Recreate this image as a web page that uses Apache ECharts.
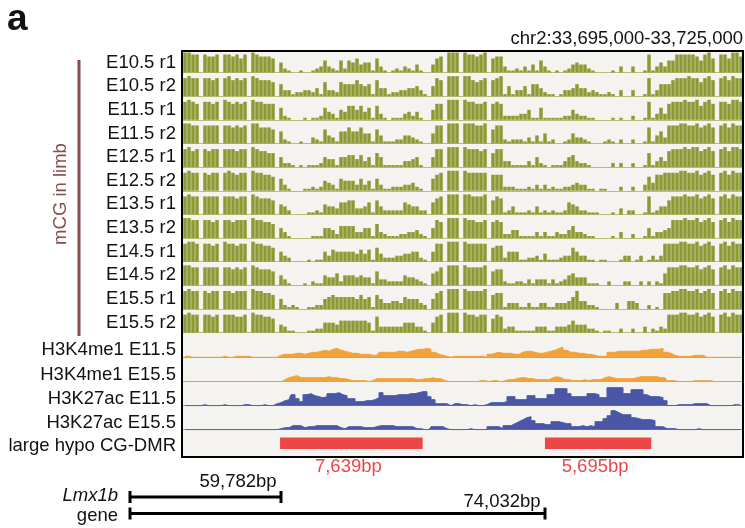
<!DOCTYPE html>
<html><head><meta charset="utf-8">
<script src="https://cdn.jsdelivr.net/npm/echarts@6/dist/echarts.min.js"></script>
<style>html,body{margin:0;padding:0;background:#fff}#c{width:745px;height:528px}</style>
</head><body><div id="c"></div>
<script>
// ---------- DATA ----------
const panelLetter = 'a';
const regionLabel = 'chr2:33,695,000-33,725,000';
const regionStart = 33695000;
const regionEnd = 33725000;
const groupLabel = 'mCG in limb';
const mcgLabels = ['E10.5 r1','E10.5 r2','E11.5 r1','E11.5 r2','E12.5 r1','E12.5 r2','E13.5 r1','E13.5 r2','E14.5 r1','E14.5 r2','E15.5 r1','E15.5 r2'];
// mCG level per 4-px bin (0-10), 140 bins across the region
const mE105r1 = [10,10,9,9,0,9,8,8,9,0, 9,9,8,9,7,9,0,10,9,8, 8,8,7,0,5,2,1,0,0,1, 0,0,1,2,3,6,3,2,1,6, 2,6,5,7,4,5,5,1,7,3, 1,0,1,2,1,3,2,1,4,1, 0,0,4,7,8,0,10,10,10,0, 10,9,9,8,9,10,0,7,8,8, 3,1,1,2,1,3,1,4,1,6, 3,1,0,1,0,1,2,4,5,4, 4,2,1,0,0,0,0,1,0,3, 0,0,3,0,0,1,9,1,3,5, 3,6,6,9,9,9,9,9,8,6, 9,10,7,0,9,9,7,10,10,8];
const mE105r2 = [9,10,9,9,0,9,9,8,9,0, 9,10,8,9,8,9,0,10,9,8, 8,8,7,0,6,3,3,1,2,2, 3,3,2,4,1,7,3,3,2,7, 6,6,6,8,6,5,6,1,8,4, 4,1,2,2,3,3,4,4,5,3, 1,0,5,9,8,0,10,10,10,0, 10,10,8,7,8,9,0,8,9,10, 1,5,1,3,3,5,1,6,6,4, 2,1,1,0,1,3,3,4,6,4, 4,2,3,2,1,1,2,1,0,3, 0,0,3,0,0,1,9,1,3,6, 6,6,8,9,9,9,10,9,9,7, 9,10,8,0,9,10,8,10,9,9];
const mE115r1 = [9,10,9,8,0,9,9,8,9,0, 10,9,8,9,8,9,0,10,9,9, 8,8,8,0,6,2,1,0,0,0, 1,0,1,1,2,6,4,3,1,5, 4,7,7,5,7,4,6,1,7,3, 1,0,1,1,1,3,4,2,4,1, 0,0,5,8,8,0,10,10,10,0, 10,9,9,8,8,9,0,8,9,8, 2,2,2,2,3,3,5,1,1,6, 1,1,1,1,1,2,2,5,3,2, 2,1,1,0,0,0,0,1,0,1, 0,0,2,0,0,1,9,1,3,6, 3,8,9,9,9,10,9,9,10,7, 9,10,8,0,9,9,8,10,10,9];
const mE115r2 = [10,10,9,9,0,9,9,9,9,0, 9,9,8,9,8,9,0,10,10,8, 8,8,7,0,6,2,1,0,0,1, 0,0,3,2,1,7,4,3,1,6, 6,8,6,6,8,5,5,1,7,4, 1,1,1,2,2,4,4,3,2,1, 0,0,5,9,9,0,10,10,10,0, 10,10,10,9,9,10,0,7,9,9, 2,1,2,2,2,1,3,1,4,1, 5,1,2,0,0,1,2,5,3,3, 2,1,0,0,0,1,2,1,0,2, 0,0,2,0,0,1,8,1,4,6, 3,9,9,9,10,10,9,9,10,8, 9,10,8,0,9,10,8,10,9,9];
const mE125r1 = [9,10,8,9,0,9,8,9,9,0, 9,9,9,8,9,9,0,10,9,8, 8,7,7,0,5,2,2,1,0,1, 0,1,1,1,2,5,4,4,1,5, 5,6,6,4,6,3,5,1,7,5, 1,1,1,1,1,3,3,4,5,1, 0,0,5,9,9,0,10,10,10,0, 10,9,9,9,8,9,0,7,9,9, 3,3,1,1,1,1,3,1,5,2, 1,0,1,1,1,3,5,6,3,2, 2,1,0,0,0,0,0,2,0,2, 0,0,2,0,0,1,7,1,3,5, 3,8,9,9,9,10,9,10,10,8, 9,10,8,0,9,10,8,10,10,9];
const mE125r2 = [9,10,9,9,0,9,8,9,9,0, 9,10,9,8,9,9,0,10,9,9, 8,8,7,0,6,3,1,0,0,0, 1,1,2,1,2,5,4,3,1,6, 5,5,5,3,6,3,5,1,6,3, 1,1,2,2,2,3,3,4,2,1, 0,0,6,8,9,0,10,10,10,0, 10,9,9,9,9,9,0,8,8,8, 2,2,2,1,1,1,2,1,3,1, 3,1,2,1,1,2,2,3,4,3, 3,1,1,0,1,1,0,0,0,2, 0,0,2,0,0,3,7,4,8,8, 9,9,9,9,10,10,9,9,10,8, 9,10,8,0,9,10,8,10,9,9];
const mE135r1 = [9,10,9,9,0,9,9,9,9,0, 9,9,9,8,9,9,0,10,9,8, 8,8,7,0,5,4,2,0,0,0, 0,1,1,2,1,5,4,4,3,6, 6,7,7,3,3,4,6,1,7,4, 2,2,2,2,2,6,5,4,4,2, 2,0,6,8,9,0,10,10,10,0, 10,10,9,9,9,10,0,7,9,8, 1,2,4,1,1,1,2,1,4,1, 2,1,2,1,1,2,6,5,4,2, 2,1,1,1,0,0,0,1,0,3, 0,2,2,0,0,1,9,1,2,4, 4,7,9,9,9,10,9,9,10,8, 9,10,8,0,9,10,8,10,9,9];
const mE135r2 = [10,10,9,9,0,9,9,8,9,0, 9,9,8,9,9,9,0,10,9,9, 8,8,7,0,5,3,1,0,0,0, 0,0,1,1,1,5,5,4,2,6, 6,6,6,3,3,5,5,1,7,3, 2,1,1,1,2,2,3,3,4,2, 1,0,5,9,8,0,10,10,10,0, 10,9,9,8,8,9,0,8,9,8, 2,2,4,4,1,1,1,1,3,1, 3,1,1,3,2,2,4,6,3,3, 2,1,1,0,0,0,0,1,0,3, 0,0,2,0,0,1,5,1,3,3, 4,5,9,9,9,10,9,9,10,8, 9,10,8,0,9,10,8,10,9,9];
const mE145r1 = [9,10,10,9,0,9,9,8,9,0, 10,9,9,8,9,9,0,10,9,9, 8,8,7,0,5,3,2,0,0,0, 0,1,0,1,1,5,3,6,5,5, 5,5,5,4,6,4,6,1,7,4, 2,2,2,3,3,4,4,5,5,2, 1,0,5,9,9,0,10,10,10,0, 10,9,9,9,9,9,0,7,8,8, 2,5,5,5,1,1,2,2,3,1, 4,1,1,1,2,3,3,7,5,3, 3,1,1,0,1,1,0,0,0,1, 3,3,0,1,3,0,1,3,1,3, 9,9,9,9,10,10,9,9,10,8, 9,10,8,0,9,10,8,10,9,9];
const mE145r2 = [10,10,9,9,0,9,9,9,9,0, 9,9,8,9,8,9,0,10,9,8, 8,8,7,0,5,3,1,0,0,0, 1,0,2,1,1,5,4,4,6,2, 5,5,5,4,5,4,4,1,7,3, 3,2,2,2,2,5,4,4,3,2, 1,0,6,7,9,0,10,10,10,0, 10,9,9,9,9,10,0,7,8,8, 2,1,1,2,2,1,3,1,3,3, 3,1,3,1,2,3,5,6,4,4, 4,1,1,1,0,0,2,0,0,0, 2,2,0,0,2,0,2,0,2,1, 6,9,9,9,10,10,9,9,10,8, 9,10,8,0,9,10,8,10,9,9];
const mE155r1 = [9,10,9,9,0,9,8,9,9,0, 9,9,8,9,9,9,0,10,9,9, 8,8,7,0,5,2,1,2,1,0, 0,1,1,2,2,5,6,7,6,6, 6,6,6,5,7,5,6,1,7,5, 3,3,4,4,3,6,5,5,5,3, 2,0,5,8,9,0,10,10,10,0, 10,9,9,9,9,10,0,7,8,8, 1,3,3,3,1,1,3,1,1,3, 3,1,1,3,3,3,4,6,9,4, 4,2,2,1,0,0,0,0,3,0, 0,4,4,3,0,0,2,0,1,0, 8,8,9,9,10,10,9,9,10,8, 9,10,8,0,9,10,8,10,9,9];
const mE155r2 = [9,10,9,9,0,9,9,8,9,0, 9,9,9,8,8,9,0,10,9,9, 8,8,7,0,4,3,1,1,0,0, 0,1,1,2,2,5,5,5,4,6, 6,6,6,6,6,6,5,1,8,3, 3,3,3,3,3,5,5,5,3,3, 1,0,5,8,9,0,10,10,10,0, 10,9,9,8,9,9,0,7,9,8, 2,3,3,1,1,1,1,1,3,3, 3,1,1,3,3,3,4,6,4,4, 4,2,2,1,0,1,1,0,0,2, 0,0,2,0,0,3,0,2,1,3, 2,9,9,9,10,10,9,9,10,8, 9,10,8,0,9,10,8,10,9,9];
const mcgRows = [mE105r1,mE105r2,mE115r1,mE115r2,mE125r1,mE125r2,mE135r1,mE135r2,mE145r1,mE145r2,mE155r1,mE155r2];

const histLabels = ['H3K4me1 E11.5','H3K4me1 E15.5','H3K27ac E11.5','H3K27ac E15.5'];
// ChIP signal per 4-px bin (0-20)
const h3k4me1E115 = [1,1,0,0,0,0,0,0,0,0, 1,0,0,1,1,1,1,0,0,0, 0,0,0,0,2,3,3,3,4,4, 3,4,5,5,6,7,6,8,9,7, 6,5,4,4,3,3,3,2,2,5, 5,5,5,6,6,5,6,7,8,8, 9,8,5,3,2,1,0,1,1,1, 1,1,1,1,1,0,3,4,5,4, 4,4,3,3,5,6,6,5,4,4, 5,6,7,9,10,7,5,5,4,4, 3,3,2,1,1,1,5,5,6,6, 6,6,6,6,7,7,8,8,8,9, 5,4,2,1,1,1,1,2,2,2, 0,0,0,0,0,0,0,0,0,0];
const h3k4me1E155 = [0,0,0,0,0,0,0,0,0,0, 0,0,0,0,0,0,0,0,0,0, 0,0,0,0,0,2,4,5,6,4, 4,4,4,4,4,4,5,4,4,3, 3,2,1,1,1,1,0,1,3,3, 3,3,3,3,3,3,3,3,2,2, 3,3,4,3,3,1,0,0,0,0, 0,0,0,0,1,1,0,1,1,0, 1,2,2,3,4,4,3,3,2,2, 2,2,4,5,4,2,2,1,1,1, 2,1,2,2,2,4,5,4,3,3, 3,3,3,4,5,5,5,5,5,4, 4,1,1,0,0,0,0,1,1,1, 1,1,0,0,0,0,0,0,0,0];
const h3k27acE115 = [0,0,0,0,0,1,0,0,0,0, 1,0,0,0,0,1,1,0,0,0, 1,0,0,2,3,5,6,11,7,4, 11,12,10,9,8,9,12,12,13,11, 10,7,7,4,4,5,5,6,8,13, 10,10,10,11,11,11,12,12,13,14, 14,9,6,2,2,2,0,2,2,1, 1,0,1,0,0,1,3,3,3,3, 4,9,9,6,6,6,10,10,7,7, 7,11,11,17,17,17,12,9,9,9, 9,12,12,11,8,8,18,18,18,18, 12,12,16,16,16,11,9,9,9,8, 5,0,0,1,1,1,1,2,2,2, 2,0,0,0,0,0,0,1,1,0];
const h3k27acE155 = [0,0,0,0,0,0,0,0,0,0, 0,0,0,0,0,0,0,0,0,0, 0,0,0,0,1,2,2,4,4,4, 2,3,3,4,4,4,4,4,4,2, 1,3,3,3,3,2,2,2,3,4, 4,4,4,3,3,3,3,3,1,1, 0,0,3,3,3,1,0,0,0,0, 0,1,0,0,0,0,3,3,3,1, 4,4,6,8,10,12,13,9,6,6, 5,5,8,8,7,6,6,3,3,4, 3,4,3,8,8,11,14,19,17,15, 15,15,12,11,10,10,10,9,3,3, 1,1,1,0,0,0,0,0,1,0, 0,0,0,0,0,0,0,0,0,0];
const histRows = [h3k4me1E115,h3k4me1E155,h3k27acE115,h3k27acE155];

const dmrLabel = 'large hypo CG-DMR';
const dmrStarts = [33700200, 33714390];
const dmrLengths = [7639, 5695];
const dmrSizeLabels = ['7,639bp','5,695bp'];

const geneName = 'Lmx1b';
const geneLabel = 'gene';
const geneDistLabels = ['59,782bp','74,032bp'];

// ---------- STYLE / LAYOUT ----------
const FONT = '"Liberation Sans", Arial, sans-serif';
const FS = '18.5px ';
const OLIVE = '#8c9a34', OLIVE_LINE = '#b8be78', ORANGE = '#f2a23a', BLUE = '#4a57a6', RED = '#ee4646', BROWN = '#8a4c4c';
const PLOT_L = 183, PLOT_W = 560;
const nBins = mE105r1.length;
const bins = Array.from({length: nBins}, (_, i) => i);

const grids = [], xAxes = [], yAxes = [], series = [], graphics = [];
let gi = 0;

function addCatGrid(top, height, max, lineColor) {
  grids.push({left: PLOT_L, width: PLOT_W, top: top, height: height});
  xAxes.push({type: 'category', gridIndex: gi, data: bins, boundaryGap: true,
    axisLine: {show: true, lineStyle: {color: lineColor, width: 1}}, axisTick: {show: false}, axisLabel: {show: false}, splitLine: {show: false}});
  yAxes.push({type: 'value', gridIndex: gi, min: 0, max: max, show: false});
  return gi++;
}

function addLabel(text, x, y, opts) {
  graphics.push(Object.assign({type: 'text', x: x, y: y, z: 50,
    style: Object.assign({text: text, font: FS + FONT, fill: '#111', textAlign: 'right', textVerticalAlign: 'middle'}, opts || {})}));
}

// mCG rows
mcgRows.forEach((row, i) => {
  const top = 52.5 + 23.65 * i;
  const g = addCatGrid(top, 20, 10, OLIVE_LINE);
  series.push({type: 'bar', xAxisIndex: g, yAxisIndex: g, data: row, barCategoryGap: '12%',
    itemStyle: {color: OLIVE}, silent: true});
  addLabel(mcgLabels[i], 176, top + 10);
});

// histone tracks
const histBase = [357.3, 381.7, 405.7, 429.7];
const histColors = [ORANGE, ORANGE, BLUE, BLUE];
histRows.forEach((row, i) => {
  const top = histBase[i] - 20;
  const g = addCatGrid(top, 20, 20, '#a5a5a5');
  series.push({type: 'line', xAxisIndex: g, yAxisIndex: g, data: row, step: 'middle', symbol: 'none',
    lineStyle: {color: histColors[i], width: 1}, areaStyle: {color: histColors[i], opacity: 1}, silent: true});
  addLabel(histLabels[i], 176, histBase[i] - 7);
});

// DMR track
grids.push({left: PLOT_L, width: PLOT_W, top: 437.5, height: 11.5});
xAxes.push({type: 'value', gridIndex: gi, min: regionStart, max: regionEnd, show: false});
yAxes.push({type: 'value', gridIndex: gi, min: 0, max: 1, show: false});
series.push({type: 'custom', xAxisIndex: gi, yAxisIndex: gi, silent: true,
  data: dmrStarts.map((s, i) => [s, s + dmrLengths[i]]),
  renderItem: function (params, api) {
    const p0 = api.coord([api.value(0), 1]);
    const p1 = api.coord([api.value(1), 0]);
    return {type: 'group', children: [
      {type: 'rect', shape: {x: p0[0], y: p0[1], width: p1[0] - p0[0], height: p1[1] - p0[1]}, style: {fill: RED}},
      {type: 'text', style: {text: dmrSizeLabels[params.dataIndex], x: (p0[0] + p1[0]) / 2 - 3, y: p1[1] + 18,
        textAlign: 'center', textVerticalAlign: 'middle', font: FS + FONT, fill: RED}}
    ]};
  }});
gi++;
addLabel(dmrLabel, 176, 446);

// panel background + frame
graphics.push({type: 'rect', z: -10, shape: {x: 182, y: 51, width: 561, height: 406}, style: {fill: '#f5f3f0'}});
graphics.push({type: 'rect', z: 100, shape: {x: 182, y: 51, width: 561, height: 406}, style: {fill: null, stroke: '#000', lineWidth: 2}});

// titles
addLabel(panelLetter, 7, 20, {font: 'bold 37px ' + FONT, textAlign: 'left'});
addLabel(regionLabel, 743, 39);

// group bracket
graphics.push({type: 'line', shape: {x1: 79, y1: 60, x2: 79, y2: 336}, style: {stroke: BROWN, lineWidth: 3}});
graphics.push({type: 'text', x: 61, y: 194, rotation: Math.PI / 2,
  style: {text: groupLabel, font: FS + FONT, fill: BROWN, textAlign: 'center', textVerticalAlign: 'middle'}});

// gene scale bars (schematic)
function scaleBar(x1, x2, y) {
  graphics.push({type: 'line', shape: {x1: x1, y1: y, x2: x2, y2: y}, style: {stroke: '#000', lineWidth: 3}});
  graphics.push({type: 'line', shape: {x1: x1, y1: y - 6, x2: x1, y2: y + 6}, style: {stroke: '#000', lineWidth: 3}});
  graphics.push({type: 'line', shape: {x1: x2, y1: y - 6, x2: x2, y2: y + 6}, style: {stroke: '#000', lineWidth: 3}});
}
scaleBar(130, 281, 497);
scaleBar(130, 545, 513.5);
addLabel(geneName, 118, 496, {font: 'italic ' + FS + FONT});
addLabel(geneLabel, 118, 516);
addLabel(geneDistLabels[0], 238, 482, {textAlign: 'center'});
addLabel(geneDistLabels[1], 502, 502, {textAlign: 'center'});

const chart = echarts.init(document.getElementById('c'), null, {renderer: 'canvas'});
chart.setOption({
  animation: false,
  backgroundColor: '#ffffff',
  grid: grids, xAxis: xAxes, yAxis: yAxes, series: series,
  graphic: {elements: graphics}
});
</script></body></html>
